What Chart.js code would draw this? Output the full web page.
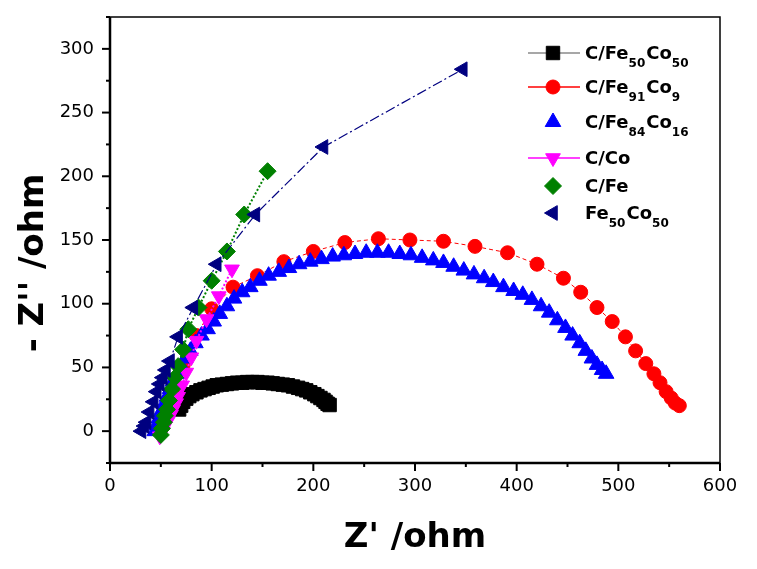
<!DOCTYPE html>
<html>
<head>
<meta charset="utf-8">
<script src="https://cdn.jsdelivr.net/npm/chart.js@4.4.1/dist/chart.umd.min.js"></script>
<style>
  html, body { margin: 0; background: #fff; }
</style>
</head>
<body>
<canvas id="chart" width="757" height="569"></canvas>
<script>
// Nyquist data (Z' and -Z'' in ohm)
const feCo50X = [68,70,72,75,78,81,85,89,93,97,101,105,110,115,120,125,130,135,140,145,150,155,160,165,170,175,180,185,189,193,197,201,204,207,210,212,214,216]
const feCo50Y = [17,20,23,25.5,27.5,29,30.5,32,33,34,35,36,36.5,37,37.5,38,38,38.5,38.5,38.5,38,38,37.5,37,36.5,36,35,34,33,32,30.5,29,27.5,26,24.5,23,21.5,20.5]

const fe91X = [50,55,62,72,85,100,121,145,171,200,231,264,295,328,359,391,420,446,463,479,494,507,517,527,535,541,547,552,556,560]
const fe91Y = [2,10,30,52,75,96,113,122,133,141,148,151,150,149,145,140,131,120,109,97,86,74,63,53,45,38,31,26,22,20]

const fe84X = [44,46,48,50,53,56,59,62,66,70,74,79,84,90,96,102,108,115,122,130,138,147,156,166,176,186,197,208,219,230,241,252,263,274,285,296,307,318,328,338,348,358,368,377,387,397,406,415,424,432,440,448,455,462,468,474,479,484,488]
const fe84Y = [0,5,10,15,21,27,33,39,45,51,57,63,69,75,80,86,92,98,104,109,113,118,122,125,128,131,133,135,137,138,139,140,140,140,139,138,136,134,132,129,126,123,120,117,113,110,107,103,98,93,87,81,75,69,63,57,52,48,45]

const coX = [49,52,54,57,60,62,65,67,71,75,80,85,95,107,120]
const coY = [-4,0,4,8,13,17,22,27,36,46,58,71,88,106,127]

const feX = [50,51,53,54,56,58,61,64,67,72,77,87,100,115,132,155]
const feY = [-3,2,7,12,17,24,33,42,51,64,80,97,118,141,170,204]

const bareX = [31,34,36,39,43,46,49,52,55,59,67,82,105,143,210,347]
const bareY = [0,4,7,15,23,31,37,42,48,55,74,97,131,170,223,284]

const xTicks = [0,100,200,300,400,500,600]
const yTicks = [0,50,100,150,200,250,300]

const FONT = '"DejaVu Sans", Verdana, sans-serif'

const pts = (xs, ys) => xs.map((x, i) => ({ x, y: ys[i] }))

const series = [
    { label: ['C/Fe', '50', 'Co', '50'], data: pts(feCo50X, feCo50Y), color: '#000000', line: '#8a8a8a', style: 'rect', radius: 9.5, rot: 0, width: 1, dash: [], order: 6, legendLine: true },
    { label: ['C/Fe', '91', 'Co', '9'], data: pts(fe91X, fe91Y), color: '#ff0000', line: '#ff0000', style: 'circle', radius: 7, rot: 0, width: 1, dash: [4, 3], order: 5, legendLine: true },
    { label: ['C/Fe', '84', 'Co', '16'], data: pts(fe84X, fe84Y), color: '#0000ff', line: null, style: 'triangle', radius: 9, rot: 0, width: 0, dash: [], order: 4, legendLine: false },
    { label: ['C/Co'], data: pts(coX, coY), color: '#ff00ff', line: '#ff00ff', style: 'triangle', radius: 8.5, rot: 180, width: 2, dash: [2, 2], order: 3, legendLine: true },
    { label: ['C/Fe'], data: pts(feX, feY), color: '#008000', line: '#008000', style: 'rectRot', radius: 8.5, rot: 0, width: 2, dash: [2, 2], order: 2, legendLine: false },
    { label: ['Fe', '50', 'Co', '50'], data: pts(bareX, bareY), color: '#000080', line: '#000080', style: 'triangle', radius: 8.5, rot: 270, width: 1.2, dash: [10, 3, 2, 3], order: 1, legendLine: false },
]

const datasets = series.map(s => ({
    data: s.data,
    order: s.order,
    showLine: s.line !== null,
    borderColor: s.line || s.color,
    borderWidth: s.width,
    borderDash: s.dash,
    backgroundColor: s.color,
    pointStyle: s.style,
    pointRadius: s.radius,
    pointRotation: s.rot,
    pointBackgroundColor: s.color,
    pointBorderColor: s.color,
    pointBorderWidth: 1,
}))

// frame, tick marks, axis titles and legend
const decorations = {
    id: 'decorations',
    afterDraw(chart) {
        const { ctx, chartArea: a, scales: { x, y } } = chart
        ctx.save()
        ctx.strokeStyle = '#000'
        ctx.lineWidth = 1.5
        ctx.beginPath()
        ctx.moveTo(a.left, a.top); ctx.lineTo(a.right, a.top); ctx.lineTo(a.right, a.bottom)
        ctx.stroke()
        ctx.lineWidth = 2.5
        ctx.beginPath()
        ctx.moveTo(a.left, a.top); ctx.lineTo(a.left, a.bottom); ctx.lineTo(a.right, a.bottom)
        ctx.stroke()

        ctx.lineWidth = 2
        for (let v = 0; v <= 600; v += 50) {
            const px = x.getPixelForValue(v)
            ctx.beginPath(); ctx.moveTo(px, a.bottom); ctx.lineTo(px, a.bottom + (v % 100 ? 4 : 8)); ctx.stroke()
        }
        for (let v = -25; v <= 325; v += 25) {
            const py = y.getPixelForValue(v)
            ctx.beginPath(); ctx.moveTo(a.left, py); ctx.lineTo(a.left - (v % 50 ? 4 : 8), py); ctx.stroke()
        }

        ctx.fillStyle = '#000'
        ctx.font = `bold 34px ${FONT}`
        ctx.textAlign = 'center'
        ctx.textBaseline = 'alphabetic'
        ctx.fillText("Z' /ohm", 415, 547)
        ctx.save()
        ctx.translate(43, 263)
        ctx.rotate(-Math.PI / 2)
        ctx.fillText("- Z'' /ohm", 0, 0)
        ctx.restore()

        const rows = [53, 87, 122, 158, 186, 213]
        series.forEach((s, i) => {
            const cy = rows[i]
            if (s.legendLine) {
                ctx.strokeStyle = s.line
                ctx.lineWidth = 1.5
                ctx.setLineDash([])
                ctx.beginPath(); ctx.moveTo(528, cy); ctx.lineTo(580, cy); ctx.stroke()
            }
            ctx.fillStyle = s.color
            ctx.strokeStyle = s.color
            ctx.lineWidth = 1
            Chart.helpers.drawPoint(ctx, { pointStyle: s.style, radius: s.radius, rotation: s.rot, borderWidth: 1 }, 553, cy)

            ctx.fillStyle = '#000'
            ctx.textAlign = 'left'
            let tx = 585
            const base = cy + 6
            s.label.forEach((part, k) => {
                const sub = k % 2 === 1
                ctx.font = sub ? `bold 12px ${FONT}` : `bold 18px ${FONT}`
                ctx.fillText(part, tx, sub ? base + 8 : base)
                tx += ctx.measureText(part).width + (sub ? 1 : 0)
            })
        })
        ctx.restore()
    }
}

const noPad = scale => {
    scale.paddingTop = 0
    scale.paddingBottom = 0
    scale.paddingLeft = 0
    scale.paddingRight = 0
}

new Chart(document.getElementById('chart'), {
    type: 'scatter',
    data: { datasets },
    options: {
        responsive: false,
        animation: false,
        devicePixelRatio: 1,
        layout: { padding: { top: 17, right: 37, left: 0, bottom: 0 } },
        plugins: { legend: { display: false }, tooltip: { enabled: false } },
        scales: {
            x: {
                type: 'linear', min: 0, max: 600,
                grid: { display: false, drawTicks: false },
                border: { display: false },
                afterBuildTicks: scale => { scale.ticks = xTicks.map(value => ({ value })) },
                afterFit: scale => { scale.height = 106; noPad(scale) },
                ticks: { color: '#000', padding: 13, font: { family: FONT, size: 18 } },
            },
            y: {
                type: 'linear', min: -25, max: 325,
                grid: { display: false, drawTicks: false },
                border: { display: false },
                afterBuildTicks: scale => { scale.ticks = yTicks.map(value => ({ value })) },
                afterFit: scale => { scale.width = 110; noPad(scale) },
                ticks: { color: '#000', padding: 16, font: { family: FONT, size: 18 } },
            },
        },
    },
    plugins: [decorations],
})
</script>
</body>
</html>
